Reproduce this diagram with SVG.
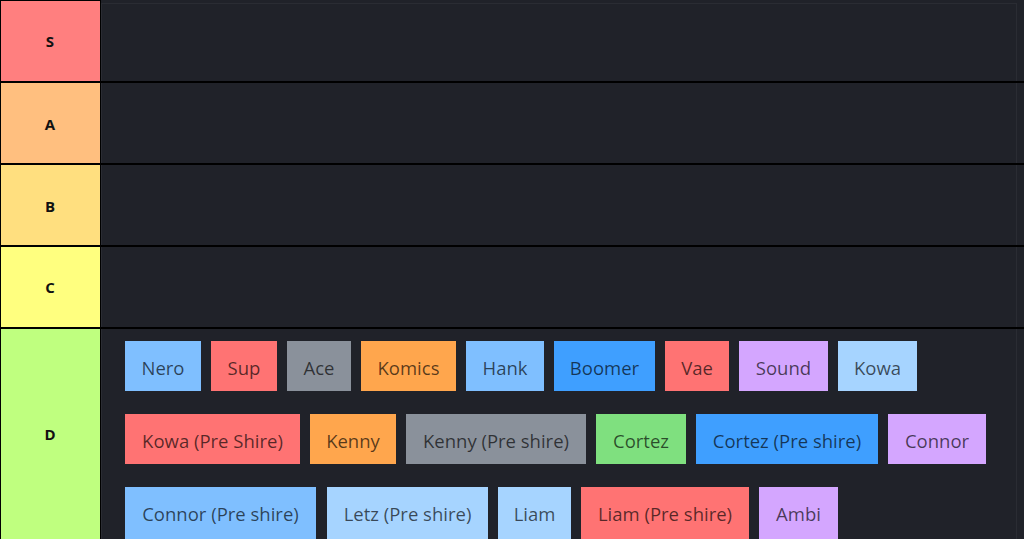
<svg xmlns="http://www.w3.org/2000/svg" width="1024" height="539" viewBox="0 0 1024 539">
<style>
.lbl{font-family:"Open Sans","Liberation Sans",sans-serif;font-weight:bold;font-size:15px;fill:#111;text-anchor:middle}
.chip text{font-family:"Open Sans","Liberation Sans",sans-serif;font-size:18.5px;fill:#000;fill-opacity:0.66;text-anchor:middle}
.sep{fill:#000}
</style>
<rect x="0" y="0" width="1024" height="539" fill="#000"/>
<rect x="101" y="0" width="923" height="539" fill="#202229"/>
<rect x="101.5" y="3.5" width="915" height="536" fill="none" stroke="#2a2c33" stroke-width="1"/>
<g id="tiers">
<g id="tier-S"><rect x="1" y="1" width="99" height="80" fill="#ff7f7f"/><text class="lbl" x="50" y="47">S</text></g>
<g id="tier-A"><rect x="1" y="83" width="99" height="80" fill="#ffbf7f"/><text class="lbl" x="50" y="130">A</text></g>
<g id="tier-B"><rect x="1" y="165" width="99" height="80" fill="#ffdf7f"/><text class="lbl" x="50" y="212">B</text></g>
<g id="tier-C"><rect x="1" y="247" width="99" height="80" fill="#ffff7f"/><text class="lbl" x="50" y="293">C</text></g>
<g id="tier-D"><rect x="1" y="329" width="99" height="210" fill="#bfff7f"/><text class="lbl" x="50" y="440">D</text></g>
</g>
<g id="separators">
<rect class="sep" x="0" y="81" width="1024" height="2"/>
<rect class="sep" x="0" y="163" width="1024" height="2"/>
<rect class="sep" x="0" y="245" width="1024" height="2"/>
<rect class="sep" x="0" y="327" width="1024" height="2"/>
</g>
<g id="chips">
<g id="nero" class="chip"><rect x="125" y="341" width="76" height="50" fill="#7fbfff"/><text x="163" y="375">Nero</text></g>
<g id="sup" class="chip"><rect x="211" y="341" width="66" height="50" fill="#ff7373"/><text x="244" y="375">Sup</text></g>
<g id="ace" class="chip"><rect x="287" y="341" width="64" height="50" fill="#8a919b"/><text x="319" y="375">Ace</text></g>
<g id="komics" class="chip"><rect x="361" y="341" width="95" height="50" fill="#ffa64d"/><text x="408.5" y="375">Komics</text></g>
<g id="hank" class="chip"><rect x="466" y="341" width="78" height="50" fill="#7fbfff"/><text x="505" y="375">Hank</text></g>
<g id="boomer" class="chip"><rect x="554" y="341" width="101" height="50" fill="#3f9fff"/><text x="604.5" y="375">Boomer</text></g>
<g id="vae" class="chip"><rect x="665" y="341" width="64" height="50" fill="#ff7373"/><text x="697" y="375">Vae</text></g>
<g id="sound" class="chip"><rect x="739" y="341" width="89" height="50" fill="#d4a6ff"/><text x="783.5" y="375">Sound</text></g>
<g id="kowa" class="chip"><rect x="838" y="341" width="79" height="50" fill="#a6d4ff"/><text x="877.5" y="375">Kowa</text></g>
<g id="kowa-pre" class="chip"><rect x="125" y="414" width="175" height="50" fill="#ff7373"/><text x="212.5" y="448">Kowa (Pre Shire)</text></g>
<g id="kenny" class="chip"><rect x="310" y="414" width="86" height="50" fill="#ffa64d"/><text x="353" y="448">Kenny</text></g>
<g id="kenny-pre" class="chip"><rect x="406" y="414" width="180" height="50" fill="#8a919b"/><text x="496" y="448">Kenny (Pre shire)</text></g>
<g id="cortez" class="chip"><rect x="596" y="414" width="90" height="50" fill="#7fe07f"/><text x="641" y="448">Cortez</text></g>
<g id="cortez-pre" class="chip"><rect x="696" y="414" width="182" height="50" fill="#3f9fff"/><text x="787" y="448">Cortez (Pre shire)</text></g>
<g id="connor" class="chip"><rect x="888" y="414" width="98" height="50" fill="#d4a6ff"/><text x="937" y="448">Connor</text></g>
<g id="connor-pre" class="chip"><rect x="125" y="487" width="191" height="52" fill="#7fbfff"/><text x="220.5" y="521">Connor (Pre shire)</text></g>
<g id="letz-pre" class="chip"><rect x="327" y="487" width="161" height="52" fill="#a6d4ff"/><text x="407.5" y="521">Letz (Pre shire)</text></g>
<g id="liam" class="chip"><rect x="498" y="487" width="73" height="52" fill="#a6d4ff"/><text x="534.5" y="521">Liam</text></g>
<g id="liam-pre" class="chip"><rect x="581" y="487" width="168" height="52" fill="#ff7373"/><text x="665" y="521">Liam (Pre shire)</text></g>
<g id="ambi" class="chip"><rect x="759" y="487" width="79" height="52" fill="#d4a6ff"/><text x="798.5" y="521">Ambi</text></g>
</g>
</svg>
